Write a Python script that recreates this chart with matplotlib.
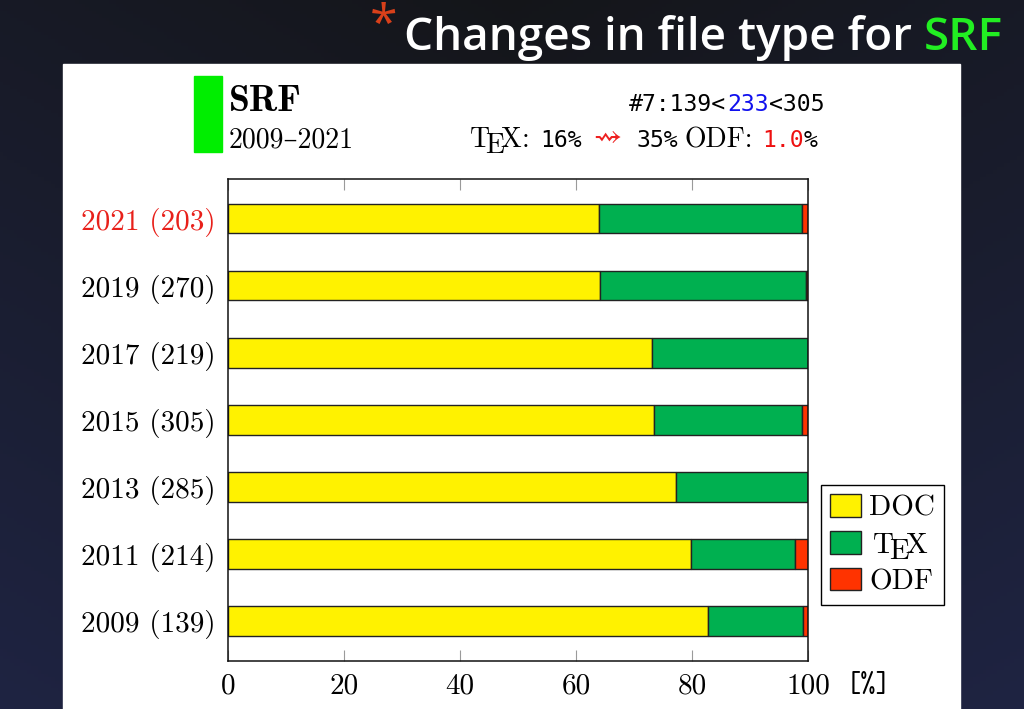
import matplotlib
matplotlib.use('Agg')
import matplotlib.pyplot as plt
from matplotlib.patches import Rectangle, Patch
from matplotlib.transforms import offset_copy
import numpy as np

# data (percent of documents per file type)
years = ['2009', '2011', '2013', '2015', '2017', '2019', '2021']
counts = [139, 214, 285, 305, 219, 270, 203]
doc = [82.7, 79.9, 77.2, 73.4, 73.1, 64.1, 64.0]
tex = [16.5, 17.9, 22.8, 25.6, 26.9, 35.5, 35.0]
odf = [0.8, 2.2, 0.0, 1.0, 0.0, 0.4, 1.0]
xticks = [0, 20, 40, 60, 80, 100]

YEL, GRN, RED = '#fff200', '#00b050', '#ff3300'
SERIF = ['cmr10', 'DejaVu Serif']
MONO = ['DejaVu Sans Mono']

W, H = 1024, 709
fig = plt.figure(figsize=(W / 100, H / 100), dpi=100)


def fx(x):
    return x / W


def fy(y):
    return 1 - y / H


# dark slide background
bg = fig.add_axes([0, 0, 1, 1], zorder=-10)
yy, xx = np.mgrid[0:1:200j, 0:1:300j]
top = np.array([0.08, 0.085, 0.10])
bot = np.array([0.12, 0.14, 0.26])
t = (yy * 0.7 + np.abs(xx - 0.5) * 0.6).clip(0, 1)[..., None]
img = top * (1 - t) + bot * t
bg.imshow(img, aspect='auto', extent=[0, 1, 0, 1], origin='upper')
bg.set_axis_off()

# white panel
fig.patches.append(Rectangle((fx(63), 0), 897 / W, (H - 64) / H,
                             transform=fig.transFigure, color='white', zorder=-5))

# title
r = fig.canvas.get_renderer()
fig.text(fx(370), fy(40), '*', color='#d8401a', fontsize=36, family='Open Sans',
         va='baseline', ha='left')
t1 = fig.text(fx(404), fy(50), 'Changes in file type for ', color='white',
              fontsize=33, family='Open Sans', weight='semibold', va='baseline')
bb = t1.get_window_extent(r)
fig.text(bb.x1 / W, fy(50), 'SRF', color='#22ee22', fontsize=33,
         family='Open Sans', weight='semibold', va='baseline')


def tex_logo(x, y, size, color='black'):
    tr = fig.transFigure
    kw = dict(fontsize=size, family=SERIF, color=color, va='baseline', ha='left')
    fig.text(x, y, 'T', transform=tr, **kw)
    fig.text(x, y, 'E', transform=offset_copy(tr, fig=fig, x=0.555 * size,
                                                y=-0.215 * size, units='points'), **kw)
    fig.text(x, y, 'X', transform=offset_copy(tr, fig=fig, x=1.111 * size,
                                                y=0, units='points'), **kw)
    return x + 1.861 * size / 72 * 100 / W


# header block
fig.patches.append(Rectangle((fx(194), fy(152)), 28 / W, 76 / H,
                             transform=fig.transFigure, color='#00ee00'))
fig.text(fx(229), fy(111), 'SRF', family=['cmb10', 'DejaVu Serif'], fontsize=27,
         weight='bold', va='baseline')
fig.text(fx(229), fy(147), '2009\u20132021', family=SERIF, fontsize=20, va='baseline')

mono_kw = dict(family=MONO, fontsize=16.7, va='baseline')
fig.text(fx(629), fy(111), '#7:139<', **mono_kw)
fig.text(fx(727), fy(111), '233', color='#1010ee', **mono_kw)
fig.text(fx(769), fy(111), '<305', **mono_kw)

xe = tex_logo(fx(470), fy(147), 20)
fig.text(xe, fy(147), ':', family=SERIF, fontsize=20, va='baseline')
fig.text(fx(540), fy(147), '16%', **mono_kw)
fig.text(fx(593), fy(145), '\u21dd', color='#ee2020', family=['STIXGeneral', 'DejaVu Sans'],
         fontsize=22, va='baseline')
fig.text(fx(637), fy(147), '35%', **mono_kw)
fig.text(fx(684), fy(147), 'ODF:', family=SERIF, fontsize=20, va='baseline')
fig.text(fx(762), fy(147), '1.0', color='#ee1010', **mono_kw)
fig.text(fx(804), fy(147), '%', **mono_kw)

# main chart
ax = fig.add_axes([fx(228), 48 / H, 580 / W, 482 / H])
y = np.arange(len(years))
left2 = np.array(doc)
left3 = left2 + np.array(tex)
bar_kw = dict(height=0.44, edgecolor='#222222', linewidth=1.0)
ax.barh(y, doc, color=YEL, **bar_kw)
ax.barh(y, tex, left=left2, color=GRN, **bar_kw)
ax.barh(y, odf, left=left3, color=RED, **bar_kw)

ax.set_xlim(0, 100)
ax.set_ylim(-0.595, 6.59)
ax.set_yticks(y, ['%s (%d)' % (yr, c) for yr, c in zip(years, counts)])
ax.set_xticks(xticks, [str(v) for v in xticks])
ax.tick_params(axis='y', length=0, pad=9)
ax.tick_params(axis='x', direction='in', top=True, length=8, width=0.8,
               color='#9a9a9a', pad=9)
for lab in ax.get_yticklabels() + ax.get_xticklabels():
    lab.set_family(SERIF)
    lab.set_fontsize(21)
ax.get_yticklabels()[-1].set_color('#e8201a')
for s in ax.spines.values():
    s.set_linewidth(1.1)
    s.set_color('#111111')
fig.text(fx(846), fy(692), '[%]', family=['cmtt10', 'DejaVu Sans Mono'],
         fontsize=21, va='baseline')

handles = [Patch(facecolor=c, edgecolor='#222222', linewidth=1.0) for c in (YEL, GRN, RED)]
leg = ax.legend(handles, ['DOC', 'TEX', 'ODF'], loc='upper left',
                bbox_to_anchor=(fx(821), fy(485)), bbox_transform=fig.transFigure,
                borderaxespad=0, fancybox=False, edgecolor='black', framealpha=1,
                prop=dict(family=SERIF, size=21), handlelength=1.05,
                handleheight=0.8, handletextpad=0.28, labelspacing=0.33,
                borderpad=0.32)
leg.get_frame().set_linewidth(1.0)

# swap the plain "TEX" label for the typeset logo
fig.canvas.draw()
lt = leg.get_texts()[1]
px, py = lt.get_transform().transform(lt.get_position())
lt.set_alpha(0)
tex_logo(px / W + 0.004, py / H, 21)

fig.savefig('out.png', dpi=100)
